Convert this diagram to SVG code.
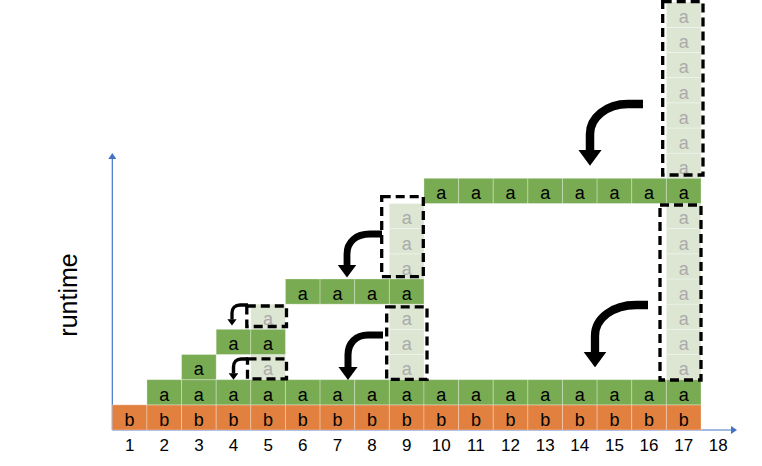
<svg xmlns="http://www.w3.org/2000/svg" width="762" height="466" viewBox="0 0 762 466">
<style>
  text { font-family: "Liberation Sans", Arial, sans-serif; }
  .cell rect { stroke: #ffffff; stroke-opacity: 0.3; stroke-width: 1; }
  .cell text { font-size: 18px; text-anchor: middle; }
  .b rect { fill: #E1803F; }
  .a rect { fill: #78AB52; }
  .g rect { fill: #DCE6D3; }
  .b text, .a text { fill: #000000; }
  .g text { fill: #ABABAB; }
  .box { fill: none; stroke: #000000; stroke-width: 3.3; stroke-dasharray: 9 5; }
  .arrow { fill: none; stroke: #000000; stroke-linecap: butt; marker-end: url(#head); }
  .axis { stroke: #4472C4; stroke-width: 1.2; fill: none; }
  .num { font-size: 17px; text-anchor: middle; fill: #000000; }
  .label { font-size: 25px; text-anchor: middle; fill: #000000; }
</style>
<defs>
  <marker id="head" viewBox="0 -1.4 1.9 2.8" markerWidth="1.9" markerHeight="2.8" refX="0.05" refY="0" orient="auto" markerUnits="strokeWidth">
    <path d="M0,-1.4 L1.9,0 L0,1.4 Z" fill="#000000"/>
  </marker>
  <marker id="axhead" viewBox="0 -4 6 8" markerWidth="6" markerHeight="8" refX="0" refY="0" orient="auto" markerUnits="userSpaceOnUse">
    <path d="M0,-4 L6,0 L0,4 Z" fill="#4472C4"/>
  </marker>
</defs>

<g id="axes">
  <line class="axis" x1="112.3" y1="430" x2="112.3" y2="159" marker-end="url(#axhead)"/>
  <line class="axis" x1="112.3" y1="430" x2="731" y2="430" marker-end="url(#axhead)"/>
</g>

<g id="ghost-cells">
  <g id="g-5-2" class="cell g" transform="translate(250.82,354.49)"><rect width="34.63" height="25.17"/><text x="17.32" y="21">a</text></g>
  <g id="g-5-4" class="cell g" transform="translate(250.82,304.15)"><rect width="34.63" height="25.17"/><text x="17.32" y="21">a</text></g>
  <g id="g-9-2" class="cell g" transform="translate(389.34,354.49)"><rect width="34.63" height="25.17"/><text x="17.32" y="21">a</text></g>
  <g id="g-9-3" class="cell g" transform="translate(389.34,329.32)"><rect width="34.63" height="25.17"/><text x="17.32" y="21">a</text></g>
  <g id="g-9-4" class="cell g" transform="translate(389.34,304.15)"><rect width="34.63" height="25.17"/><text x="17.32" y="21">a</text></g>
  <g id="g-9-6" class="cell g" transform="translate(389.34,253.81)"><rect width="34.63" height="25.17"/><text x="17.32" y="21">a</text></g>
  <g id="g-9-7" class="cell g" transform="translate(389.34,228.64)"><rect width="34.63" height="25.17"/><text x="17.32" y="21">a</text></g>
  <g id="g-9-8" class="cell g" transform="translate(389.34,203.47)"><rect width="34.63" height="25.17"/><text x="17.32" y="21">a</text></g>
  <g id="g-17-2" class="cell g" transform="translate(666.38,354.49)"><rect width="34.63" height="25.17"/><text x="17.32" y="21">a</text></g>
  <g id="g-17-3" class="cell g" transform="translate(666.38,329.32)"><rect width="34.63" height="25.17"/><text x="17.32" y="21">a</text></g>
  <g id="g-17-4" class="cell g" transform="translate(666.38,304.15)"><rect width="34.63" height="25.17"/><text x="17.32" y="21">a</text></g>
  <g id="g-17-5" class="cell g" transform="translate(666.38,278.98)"><rect width="34.63" height="25.17"/><text x="17.32" y="21">a</text></g>
  <g id="g-17-6" class="cell g" transform="translate(666.38,253.81)"><rect width="34.63" height="25.17"/><text x="17.32" y="21">a</text></g>
  <g id="g-17-7" class="cell g" transform="translate(666.38,228.64)"><rect width="34.63" height="25.17"/><text x="17.32" y="21">a</text></g>
  <g id="g-17-8" class="cell g" transform="translate(666.38,203.47)"><rect width="34.63" height="25.17"/><text x="17.32" y="21">a</text></g>
  <g id="g-17-10" class="cell g" transform="translate(666.38,153.13)"><rect width="34.63" height="25.17"/><text x="17.32" y="21">a</text></g>
  <g id="g-17-11" class="cell g" transform="translate(666.38,127.96)"><rect width="34.63" height="25.17"/><text x="17.32" y="21">a</text></g>
  <g id="g-17-12" class="cell g" transform="translate(666.38,102.79)"><rect width="34.63" height="25.17"/><text x="17.32" y="21">a</text></g>
  <g id="g-17-13" class="cell g" transform="translate(666.38,77.62)"><rect width="34.63" height="25.17"/><text x="17.32" y="21">a</text></g>
  <g id="g-17-14" class="cell g" transform="translate(666.38,52.45)"><rect width="34.63" height="25.17"/><text x="17.32" y="21">a</text></g>
  <g id="g-17-15" class="cell g" transform="translate(666.38,27.28)"><rect width="34.63" height="25.17"/><text x="17.32" y="21">a</text></g>
  <g id="g-17-16" class="cell g" transform="translate(666.38,2.11)"><rect width="34.63" height="25.17"/><text x="17.32" y="21">a</text></g>
</g>

<g id="b-row">
  <g id="b-1" class="cell b" transform="translate(112.30,404.83)"><rect width="34.63" height="25.17"/><text x="17.32" y="21">b</text></g>
  <g id="b-2" class="cell b" transform="translate(146.93,404.83)"><rect width="34.63" height="25.17"/><text x="17.32" y="21">b</text></g>
  <g id="b-3" class="cell b" transform="translate(181.56,404.83)"><rect width="34.63" height="25.17"/><text x="17.32" y="21">b</text></g>
  <g id="b-4" class="cell b" transform="translate(216.19,404.83)"><rect width="34.63" height="25.17"/><text x="17.32" y="21">b</text></g>
  <g id="b-5" class="cell b" transform="translate(250.82,404.83)"><rect width="34.63" height="25.17"/><text x="17.32" y="21">b</text></g>
  <g id="b-6" class="cell b" transform="translate(285.45,404.83)"><rect width="34.63" height="25.17"/><text x="17.32" y="21">b</text></g>
  <g id="b-7" class="cell b" transform="translate(320.08,404.83)"><rect width="34.63" height="25.17"/><text x="17.32" y="21">b</text></g>
  <g id="b-8" class="cell b" transform="translate(354.71,404.83)"><rect width="34.63" height="25.17"/><text x="17.32" y="21">b</text></g>
  <g id="b-9" class="cell b" transform="translate(389.34,404.83)"><rect width="34.63" height="25.17"/><text x="17.32" y="21">b</text></g>
  <g id="b-10" class="cell b" transform="translate(423.97,404.83)"><rect width="34.63" height="25.17"/><text x="17.32" y="21">b</text></g>
  <g id="b-11" class="cell b" transform="translate(458.60,404.83)"><rect width="34.63" height="25.17"/><text x="17.32" y="21">b</text></g>
  <g id="b-12" class="cell b" transform="translate(493.23,404.83)"><rect width="34.63" height="25.17"/><text x="17.32" y="21">b</text></g>
  <g id="b-13" class="cell b" transform="translate(527.86,404.83)"><rect width="34.63" height="25.17"/><text x="17.32" y="21">b</text></g>
  <g id="b-14" class="cell b" transform="translate(562.49,404.83)"><rect width="34.63" height="25.17"/><text x="17.32" y="21">b</text></g>
  <g id="b-15" class="cell b" transform="translate(597.12,404.83)"><rect width="34.63" height="25.17"/><text x="17.32" y="21">b</text></g>
  <g id="b-16" class="cell b" transform="translate(631.75,404.83)"><rect width="34.63" height="25.17"/><text x="17.32" y="21">b</text></g>
  <g id="b-17" class="cell b" transform="translate(666.38,404.83)"><rect width="34.63" height="25.17"/><text x="17.32" y="21">b</text></g>
</g>

<g id="a-cells">
  <g id="a-2-1" class="cell a" transform="translate(146.93,379.66)"><rect width="34.63" height="25.17"/><text x="17.32" y="21">a</text></g>
  <g id="a-3-1" class="cell a" transform="translate(181.56,379.66)"><rect width="34.63" height="25.17"/><text x="17.32" y="21">a</text></g>
  <g id="a-4-1" class="cell a" transform="translate(216.19,379.66)"><rect width="34.63" height="25.17"/><text x="17.32" y="21">a</text></g>
  <g id="a-5-1" class="cell a" transform="translate(250.82,379.66)"><rect width="34.63" height="25.17"/><text x="17.32" y="21">a</text></g>
  <g id="a-6-1" class="cell a" transform="translate(285.45,379.66)"><rect width="34.63" height="25.17"/><text x="17.32" y="21">a</text></g>
  <g id="a-7-1" class="cell a" transform="translate(320.08,379.66)"><rect width="34.63" height="25.17"/><text x="17.32" y="21">a</text></g>
  <g id="a-8-1" class="cell a" transform="translate(354.71,379.66)"><rect width="34.63" height="25.17"/><text x="17.32" y="21">a</text></g>
  <g id="a-9-1" class="cell a" transform="translate(389.34,379.66)"><rect width="34.63" height="25.17"/><text x="17.32" y="21">a</text></g>
  <g id="a-10-1" class="cell a" transform="translate(423.97,379.66)"><rect width="34.63" height="25.17"/><text x="17.32" y="21">a</text></g>
  <g id="a-11-1" class="cell a" transform="translate(458.60,379.66)"><rect width="34.63" height="25.17"/><text x="17.32" y="21">a</text></g>
  <g id="a-12-1" class="cell a" transform="translate(493.23,379.66)"><rect width="34.63" height="25.17"/><text x="17.32" y="21">a</text></g>
  <g id="a-13-1" class="cell a" transform="translate(527.86,379.66)"><rect width="34.63" height="25.17"/><text x="17.32" y="21">a</text></g>
  <g id="a-14-1" class="cell a" transform="translate(562.49,379.66)"><rect width="34.63" height="25.17"/><text x="17.32" y="21">a</text></g>
  <g id="a-15-1" class="cell a" transform="translate(597.12,379.66)"><rect width="34.63" height="25.17"/><text x="17.32" y="21">a</text></g>
  <g id="a-16-1" class="cell a" transform="translate(631.75,379.66)"><rect width="34.63" height="25.17"/><text x="17.32" y="21">a</text></g>
  <g id="a-17-1" class="cell a" transform="translate(666.38,379.66)"><rect width="34.63" height="25.17"/><text x="17.32" y="21">a</text></g>
  <g id="a-3-2" class="cell a" transform="translate(181.56,354.49)"><rect width="34.63" height="25.17"/><text x="17.32" y="21">a</text></g>
  <g id="a-4-3" class="cell a" transform="translate(216.19,329.32)"><rect width="34.63" height="25.17"/><text x="17.32" y="21">a</text></g>
  <g id="a-5-3" class="cell a" transform="translate(250.82,329.32)"><rect width="34.63" height="25.17"/><text x="17.32" y="21">a</text></g>
  <g id="a-6-5" class="cell a" transform="translate(285.45,278.98)"><rect width="34.63" height="25.17"/><text x="17.32" y="21">a</text></g>
  <g id="a-7-5" class="cell a" transform="translate(320.08,278.98)"><rect width="34.63" height="25.17"/><text x="17.32" y="21">a</text></g>
  <g id="a-8-5" class="cell a" transform="translate(354.71,278.98)"><rect width="34.63" height="25.17"/><text x="17.32" y="21">a</text></g>
  <g id="a-9-5" class="cell a" transform="translate(389.34,278.98)"><rect width="34.63" height="25.17"/><text x="17.32" y="21">a</text></g>
  <g id="a-10-9" class="cell a" transform="translate(423.97,178.30)"><rect width="34.63" height="25.17"/><text x="17.32" y="21">a</text></g>
  <g id="a-11-9" class="cell a" transform="translate(458.60,178.30)"><rect width="34.63" height="25.17"/><text x="17.32" y="21">a</text></g>
  <g id="a-12-9" class="cell a" transform="translate(493.23,178.30)"><rect width="34.63" height="25.17"/><text x="17.32" y="21">a</text></g>
  <g id="a-13-9" class="cell a" transform="translate(527.86,178.30)"><rect width="34.63" height="25.17"/><text x="17.32" y="21">a</text></g>
  <g id="a-14-9" class="cell a" transform="translate(562.49,178.30)"><rect width="34.63" height="25.17"/><text x="17.32" y="21">a</text></g>
  <g id="a-15-9" class="cell a" transform="translate(597.12,178.30)"><rect width="34.63" height="25.17"/><text x="17.32" y="21">a</text></g>
  <g id="a-16-9" class="cell a" transform="translate(631.75,178.30)"><rect width="34.63" height="25.17"/><text x="17.32" y="21">a</text></g>
  <g id="a-17-9" class="cell a" transform="translate(666.38,178.30)"><rect width="34.63" height="25.17"/><text x="17.32" y="21">a</text></g>
</g>

<g id="dashed-boxes">
  <rect id="box-5-4" class="box" x="246.8" y="306" width="39.7" height="20.5"/>
  <rect id="box-5-2" class="box" x="247.5" y="358.8" width="39" height="20"/>
  <rect id="box-9-low" class="box" x="386.7" y="306.8" width="40.3" height="72.5"/>
  <rect id="box-9-high" class="box" x="381.7" y="196.7" width="41.6" height="80"/>
  <rect id="box-17-high" class="box" x="662.7" y="1.7" width="40.3" height="173.3"/>
  <rect id="box-17-low" class="box" x="660" y="205" width="41" height="175"/>
</g>

<g id="connectors">
  <path class="arrow" stroke-width="3.3" d="M248,305 L240,305 C235,305 232,308 232,313 L232,319.5"/>
  <path class="arrow" stroke-width="3.4" d="M248,359 L241,359 C236.5,359 233.5,362 233.5,367 L233.5,373.5"/>
  <path class="arrow" stroke-width="6.8" d="M382,234 L370,234 C356,234 347,242 347,254 L347,265"/>
  <path class="arrow" stroke-width="7" d="M383,335 L368,335 C356,335 348,343 348,355 L348,367"/>
  <path class="arrow" stroke-width="8.3" d="M648,305 L636,305 C613,305 595,318 595,336 L595,352"/>
  <path class="arrow" stroke-width="8.5" d="M643,104 L628,104 C606,104 590,118 590,134 L590,150"/>
</g>

<g id="axis-labels">
  <text class="label" transform="translate(77.3,295) rotate(-90)">runtime</text>
  <text class="num" x="129.62" y="450.5">1</text>
  <text class="num" x="164.25" y="450.5">2</text>
  <text class="num" x="198.88" y="450.5">3</text>
  <text class="num" x="233.51" y="450.5">4</text>
  <text class="num" x="268.14" y="450.5">5</text>
  <text class="num" x="302.77" y="450.5">6</text>
  <text class="num" x="337.40" y="450.5">7</text>
  <text class="num" x="372.03" y="450.5">8</text>
  <text class="num" x="406.66" y="450.5">9</text>
  <text class="num" x="441.29" y="450.5">10</text>
  <text class="num" x="475.92" y="450.5">11</text>
  <text class="num" x="510.55" y="450.5">12</text>
  <text class="num" x="545.18" y="450.5">13</text>
  <text class="num" x="579.81" y="450.5">14</text>
  <text class="num" x="614.44" y="450.5">15</text>
  <text class="num" x="649.07" y="450.5">16</text>
  <text class="num" x="683.70" y="450.5">17</text>
  <text class="num" x="718.33" y="450.5">18</text>
</g>
</svg>
